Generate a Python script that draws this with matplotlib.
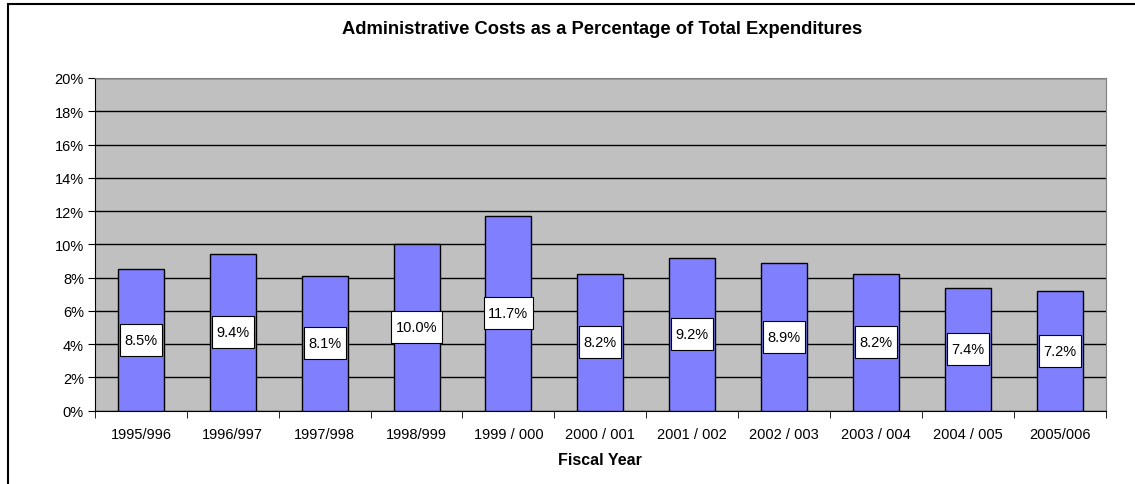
import matplotlib.pyplot as plt
from matplotlib.patches import Rectangle
from matplotlib.path import Path
import numpy as np

plt.rcParams['font.family'] = ['Liberation Sans', 'DejaVu Sans']

## Data
years = ['1995/996', '1996/997', '1997/998', '1998/999', '1999 / 000', '2000 / 001',
         '2001 / 002', '2002 / 003', '2003 / 004', '2004 / 005', '2005/006']
admin_pct = [8.5, 9.4, 8.1, 10.0, 11.7, 8.2, 9.2, 8.9, 8.2, 7.4, 7.2]


## label box with more padding top/bottom than left/right (Excel look)
def label_box(x0, y0, width, height, mutation_size):
    px = 0.3*mutation_size
    py = 0.62*mutation_size
    x0, y0 = x0 - px, y0 - py
    x1, y1 = x0 + width + 2*px, y0 + height + 2*py
    return Path([(x0, y0), (x1, y0), (x1, y1), (x0, y1), (x0, y0)], closed=True)


fig = plt.figure(figsize=(11.35, 4.85), dpi=100)
ax = fig.add_axes([95/1135, 1-411.6/485, (1105.6-95)/1135, (411.6-79)/485])

## outer chart frame (runs off right/bottom edge like the original)
fig.patches.append(Rectangle((8/1135, -0.1), 1.2, 1-5/485+0.1, transform=fig.transFigure,
                             fill=False, edgecolor='black', linewidth=1.5))

x = np.arange(len(years))
ax.set_facecolor('#C0C0C0')
ax.bar(x, admin_pct, width=0.5, color='#8080FF', edgecolor='black', linewidth=1, zorder=3)

for xi, v in zip(x, admin_pct):
    ax.text(xi, v/2, f'{v:.1f}%', ha='center', va='center', fontsize=10.5, zorder=4,
            bbox=dict(boxstyle=label_box, facecolor='white', edgecolor='black', linewidth=0.8))

ax.set_ylim(0, 20)
ax.set_xlim(-0.5, len(years)-0.5)
ax.set_yticks(np.arange(0, 21, 2))
ax.set_yticklabels([f'{t}%' for t in range(0, 21, 2)], fontsize=10.5)
ax.yaxis.grid(True, color='black', linewidth=1, zorder=0)
ax.set_axisbelow(True)

ax.set_xticks(x)
ax.set_xticklabels(years, fontsize=10.5)
ax.set_xticks(np.arange(-0.5, len(years), 1), minor=True)
ax.tick_params(axis='x', which='major', length=0, pad=12)
ax.tick_params(axis='x', which='minor', length=5, direction='out', color='black')
ax.tick_params(axis='y', length=5, direction='out', color='black', pad=3)

for side in ['top', 'right']:
    ax.spines[side].set_color('#808080')
for side in ['left', 'bottom']:
    ax.spines[side].set_color('black')

ax.set_xlabel('Fiscal Year', fontsize=11.5, fontweight='bold', labelpad=8)
fig.text(602/1135, 1-29/485, 'Administrative Costs as a Percentage of Total Expenditures',
         ha='center', va='center', fontsize=13.2, fontweight='bold')

plt.savefig('out.png', dpi=100)
plt.close()
